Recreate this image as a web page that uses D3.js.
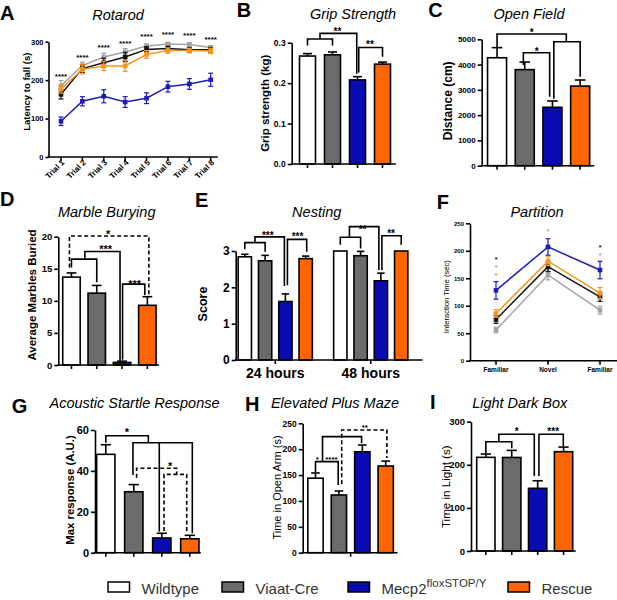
<!DOCTYPE html>
<html><head><meta charset="utf-8">
<script src="https://cdn.jsdelivr.net/npm/d3@7"></script>
<style>body{margin:0;background:#fff}svg{display:block}text{font-family:"Liberation Sans",Arial,Helvetica,sans-serif}</style>
</head><body><svg id="c" width="617" height="600"></svg>
<script>
// ---------------- DATA ----------------
const groups = ["Wildtype", "Viaat-Cre", "Mecp2", "Rescue"];
const mecp2Sup = "floxSTOP/Y";

// A Rotarod
const trials = ["Trial 1","Trial 2","Trial 3","Trial 4","Trial 5","Trial 6","Trial 7","Trial 8"];
const rotWT     = [163, 230, 245, 260, 280, 282, 279, 279];
const rotWTErr  = [12, 10, 12, 12, 7, 6, 6, 6];
const rotViaat  = [185, 238, 260, 273, 289, 294, 293, 285];
const rotViaatErr = [14, 9, 10, 9, 5, 4, 4, 5];
const rotMecp2  = [93, 145, 158, 143, 153, 183, 190, 201];
const rotMecp2Err = [11, 12, 17, 14, 14, 14, 14, 17];
const rotRescue = [177, 228, 237, 237, 267, 277, 277, 276];
const rotRescueErr = [11, 12, 12, 14, 10, 7, 6, 7];
const rotStarY  = [216, 265, 291, 300, 319, 324, 321, 311];
const rotTicks  = [0, 100, 200, 300];

// B Grip strength
const gripVals = [0.267, 0.270, 0.208, 0.247];
const gripErr  = [0.006, 0.007, 0.008, 0.005];
const gripTicks = [0, 0.1, 0.2, 0.3];

// C Open field
const ofVals = [4270, 3800, 2310, 3150];
const ofErr  = [400, 300, 250, 240];
const ofTicks = [0, 1000, 2000, 3000, 4000, 5000];

// D Marble burying
const mbVals = [13.7, 11.2, 0.4, 9.3];
const mbErr  = [0.65, 1.2, 0.2, 1.35];
const mbTicks = [0, 5, 10, 15, 20];

// E Nesting
const nestTimes = ["24 hours", "48 hours"];
const nest24 = [2.84, 2.73, 1.61, 2.79];
const nest24Err = [0.07, 0.15, 0.21, 0.07];
const nest48 = [3.0, 2.87, 2.18, 3.0];
const nest48Err = [0, 0.12, 0.21, 0];
const nestTicks = [0, 1, 2, 3];

// F Partition
const partLabels = ["Familiar", "Novel", "Familiar"];
const partWT = [75, 171, 116];      const partWTErr = [7, 9, 8];
const partViaat = [56, 156, 92];    const partViaatErr = [5, 9, 7];
const partMecp2 = [128, 207, 165];  const partMecp2Err = [16, 15, 16];
const partRescue = [86, 181, 123];  const partRescueErr = [7, 8, 10];
const partTicks = [0, 50, 100, 150, 200, 250];
// [point index, value, group index]
const partStars = [[0,187,0],[0,172,1],[0,157,3],[1,238,1],[2,208.5,0],[2,193.5,1]];

// G Acoustic startle
const asrVals = [48.1, 29.8, 7.2, 6.8];
const asrErr  = [4.7, 3.5, 2.3, 1.7];
const asrTicks = [0, 20, 40, 60];

// H Elevated plus maze
const epmVals = [144, 111.5, 195, 167.5];
const epmErr  = [10, 7.7, 13, 9.5];
const epmTicks = [0, 50, 100, 150, 200, 250];

// I Light dark box
const ldbVals = [217.3, 217, 145.4, 230.4];
const ldbErr  = [7.7, 16.5, 17.6, 10.7];
const ldbTicks = [0, 100, 200, 300];

// significance brackets: points as [bar index, value]
const gripBr = [
  {pts:[[0,0.293],[0,0.309],[1,0.309],[1,0.293]]},
  {pts:[[0.5,0.309],[0.5,0.323],[1.97,0.323],[1.97,0.223]]},
  {pts:[[2.05,0.226],[2.05,0.288],[3,0.288],[3,0.265]]}];
const gripSt = [[1.2,0.333,"**"],[2.5,0.301,"**"]];

const ofBr = [
  {pts:[[0,4644],[0,5210],[2.5,5210],[2.5,4905]]},
  {pts:[[2.05,2650],[2.05,4905],[3,4905],[3,3520]]},
  {pts:[[0.95,3983],[0.95,4470],[1.9,4470],[1.9,2730]]}];
const ofSt = [[1.25,5340,"*"],[1.43,4604,"*"]];

const mbBr = [
  {pts:[[-0.08,15.2],[-0.08,20.1],[3.06,20.1],[3.06,10.65]], dash:true},
  {pts:[[0,15.2],[0,16.5],[1,16.5],[1,12.9]]},
  {pts:[[0.53,16.5],[0.53,17.7],[1.92,17.7],[1.92,0.5]]},
  {pts:[[2.02,0.8],[2.02,12.6],[2.9,12.6],[2.9,10.9]]}];
const mbSt = [[1.45,20.8,"*"],[1.35,18.4,"***"],[2.5,13.0,"***"]];

// nesting brackets: [group, bar index, value]
const nestBr = [
  {pts:[[0,0,3.05],[0,0,3.23],[0,1,3.23],[0,1,2.98]]},
  {pts:[[0,0.5,3.23],[0,0.5,3.39],[0,1.95,3.39],[0,1.95,2.04]]},
  {pts:[[0,2.1,2.06],[0,2.1,3.32],[0,3.05,3.32],[0,3.05,2.98]]},
  {pts:[[1,0,3.17],[1,0,3.38],[1,1,3.38],[1,1,3.07]]},
  {pts:[[1,0.45,3.38],[1,0.45,3.67],[1,1.9,3.67],[1,1.9,2.48]]},
  {pts:[[1,2.05,2.48],[1,2.05,3.42],[1,3,3.42],[1,3,3.17]]}];
const nestSt = [[0,1.13,3.5,"***"],[0,2.6,3.46,"***"],[1,1.1,3.64,"**"],[1,2.5,3.53,"**"]];

const asrBr = [
  {pts:[[0,53.8],[0,57.2],[1.52,57.2],[1.52,53.8]]},
  {pts:[[0.97,38.0],[0.97,53.8],[3.09,53.8],[3.09,9.5]]},
  {pts:[[1.91,53.8],[1.91,10.3]]},
  {pts:[[1.1,36.7],[1.1,41.3],[2.53,41.3],[2.53,38.3]], dash:true},
  {pts:[[2.08,10.6],[2.08,38.3],[2.89,38.3],[2.89,9.5]], dash:true}];
const asrSt = [[0.75,60,"*"],[2.3,43.7,"*"]];

const epmBr = [
  {pts:[[0,155.4],[0,176],[0.97,176],[0.97,131]]},
  {pts:[[0.3,176],[0.3,224.3],[1.97,224.3],[1.97,211.5]]},
  {pts:[[1.12,132.8],[1.12,237.2],[3.05,237.2],[3.05,183.1]], dash:true}];
const epmSt = [[0.08,185,"*"],[0.68,185,"****"],[2.11,245,"**"]];

const ldbBr = [
  {pts:[[0,226.7],[0,253.6],[1,253.6],[1,238.3]]},
  {pts:[[0.5,253.6],[0.5,270.8],[1.87,270.8],[1.87,174]]},
  {pts:[[2.05,174],[2.05,270.8],[2.99,270.8],[2.99,243.6]]}];
const ldbSt = [[1.19,282,"*"],[2.6,282,"***"]];

// ---------------- STYLE ----------------
const barColors  = ["#ffffff", "#6b6b6b", "#0b0bb4", "#ff6600"];
const lineColors = ["#111111", "#a3a3a3", "#1c1cb8", "#f7941d"];
const LW = 1.6;

const svg = d3.select("#c");
svg.append("rect").attr("width",617).attr("height",600).attr("fill","#fff");

function labels(letter, lx, ly, title, tx, ty, ylab, yx, yy, ysize, yweight){
  svg.append("text").attr("x",lx).attr("y",ly).attr("font-size",20).attr("font-weight","bold").text(letter);
  svg.append("text").attr("x",tx).attr("y",ty).attr("text-anchor","middle").attr("font-size",14.5).attr("font-style","italic").text(title);
  svg.append("text").attr("transform",`translate(${yx},${yy}) rotate(-90)`).attr("text-anchor","middle")
     .attr("dominant-baseline","central").attr("font-size",ysize).attr("font-weight",yweight).text(ylab);
}

function yAxis(y, x0, ticks, fmt, fs, ts){
  const g = svg.append("g").attr("transform",`translate(${x0},0)`)
    .call(d3.axisLeft(y).tickValues(ticks).tickFormat(fmt).tickSize(ts||4).tickSizeOuter(0).tickPadding(2));
  g.select(".domain").attr("stroke","#000").attr("stroke-width",LW);
  g.selectAll(".tick line").attr("stroke","#000").attr("stroke-width",LW);
  g.selectAll(".tick text").attr("font-size",fs).attr("font-weight","bold").attr("fill","#000")
    .attr("font-family",'"Liberation Sans",Arial,sans-serif');
  return g;
}

function xLine(y0, xa, xb, tickXs){
  svg.append("line").attr("x1",xa).attr("x2",xb).attr("y1",y0).attr("y2",y0)
     .attr("stroke","#000").attr("stroke-width",LW).attr("stroke-linecap","square");
  svg.append("g").selectAll("line").data(tickXs).join("line")
     .attr("x1",d=>d).attr("x2",d=>d).attr("y1",y0).attr("y2",y0+4)
     .attr("stroke","#000").attr("stroke-width",LW);
}

function drawBr(px, y, br, st, fs){
  const line = d3.line().x(d=>px(d)).y(d=>y(d[d.length-1]));
  svg.append("g").selectAll("path").data(br).join("path").attr("d",d=>line(d.pts))
    .attr("fill","none").attr("stroke","#000").attr("stroke-width",LW).attr("stroke-linejoin","miter")
    .attr("stroke-dasharray",d=>d.dash?"4,2.6":null);
  svg.append("g").selectAll("text").data(st).join("text")
    .attr("x",d=>px(d)).attr("y",d=>y(d[d.length-2])+0.57*fs)
    .attr("text-anchor","middle").attr("font-size",fs).attr("font-weight","bold").text(d=>d[d.length-1]);
}

function bars(x, y, vals, errs, off){
  off = off||0;
  const bw = x.bandwidth();
  const g = svg.append("g");
  g.selectAll("rect").data(vals).join("rect")
    .attr("x",(d,i)=>off+x(i)).attr("width",bw).attr("y",d=>y(d)).attr("height",d=>y(0)-y(d))
    .attr("fill",(d,i)=>barColors[i]).attr("stroke","#000").attr("stroke-width",LW);
  const cw = bw*0.56;
  vals.forEach((v,i)=>{
    if(errs[i]<=0) return;
    const cx = off + x(i) + bw/2;
    g.append("line").attr("x1",cx).attr("x2",cx).attr("y1",y(v)).attr("y2",y(v+errs[i])).attr("stroke","#000").attr("stroke-width",LW);
    g.append("line").attr("x1",cx-cw/2).attr("x2",cx+cw/2).attr("y1",y(v+errs[i])).attr("y2",y(v+errs[i])).attr("stroke","#000").attr("stroke-width",LW);
  });
}

function barPanel(o){
  const x = d3.scaleBand().domain(d3.range(o.vals.length)).range(o.xr).paddingInner(o.pad).paddingOuter(o.pad/2);
  const y = d3.scaleLinear().domain(o.yd).range(o.yr);
  bars(x, y, o.vals, o.errs);
  yAxis(y, o.ax, o.ticks, o.fmt, o.tfs);
  const centers = o.vals.map((d,i)=>x(i)+x.bandwidth()/2);
  xLine(y(0), o.ax, o.axEnd, o.xticks ? o.xticks(centers) : centers);
  const px = d => x(0) + x.bandwidth()/2 + d[0]*x.step();
  drawBr(px, y, o.br, o.st, o.sfs);
}

function linePanel(x, y, series){
  const line = d3.line().x((d,i)=>x(i)).y(d=>y(d));
  series.forEach(([v,e,c])=>{
    const col = lineColors[c];
    const g = svg.append("g");
    g.append("path").attr("d",line(v)).attr("fill","none").attr("stroke",col).attr("stroke-width",1.5);
    v.forEach((d,i)=>{
      const cx = x(i);
      g.append("line").attr("x1",cx).attr("x2",cx).attr("y1",y(d-e[i])).attr("y2",y(d+e[i])).attr("stroke",col).attr("stroke-width",1.2);
      [d-e[i], d+e[i]].forEach(w=>g.append("line").attr("x1",cx-2.5).attr("x2",cx+2.5).attr("y1",y(w)).attr("y2",y(w)).attr("stroke",col).attr("stroke-width",1.2));
      g.append("rect").attr("x",cx-2.3).attr("y",y(d)-2.3).attr("width",4.6).attr("height",4.6).attr("fill",col);
    });
  });
}

// ---------------- PANEL A ----------------
(function(){
  const xp = d3.scalePoint().domain(trials).range([61, 210.7]);
  const x = i => xp(trials[i]);
  const y = d3.scaleLinear().domain([0,300]).range([157, 41.7]);
  yAxis(y, 48.5, rotTicks, d3.format("d"), 7.5, 3);
  xLine(157, 48.5, 217, trials.map(t=>xp(t)));
  svg.append("g").selectAll("text").data(trials).join("text")
    .attr("transform",t=>`translate(${xp(t)+2},${161}) rotate(-45)`).attr("text-anchor","end").attr("dy","0.35em")
    .attr("font-size",8).attr("font-weight","bold").text(t=>t);
  linePanel(x, y, [[rotViaat,rotViaatErr,1],[rotWT,rotWTErr,0],[rotRescue,rotRescueErr,3],[rotMecp2,rotMecp2Err,2]]);
  svg.append("g").selectAll("text").data(rotStarY).join("text")
    .attr("x",(d,i)=>x(i)).attr("y",d=>y(d)+0.57*8).attr("text-anchor","middle")
    .attr("font-size",8).attr("font-weight","bold").text("****");
  labels("A", 0, 19.5, "Rotarod", 118, 19.5, "Latency to fall (s)", 26.5, 91.7, 9.5, "bold");
})();

// ---------------- PANEL B ----------------
barPanel({vals:gripVals, errs:gripErr, xr:[295,395], pad:0.36, yd:[0,0.3], yr:[164,42.7], ax:291.7, axEnd:395,
  ticks:gripTicks, fmt:d3.format(".1f"), tfs:8.5, br:gripBr, st:gripSt, sfs:10});
labels("B", 236.7, 16.7, "Grip Strength", 353, 18.5, "Grip strength (kg)", 265, 103.3, 11.5, "bold");

// ---------------- PANEL C ----------------
barPanel({vals:ofVals, errs:ofErr, xr:[483.2,594], pad:0.314, yd:[0,5000], yr:[165.7,39.3], ax:481.7, axEnd:593.5,
  ticks:ofTicks, fmt:d3.format("d"), tfs:8, br:ofBr, st:ofSt, sfs:10});
labels("C", 428.3, 16.7, "Open Field", 529, 18.5, "Distance (cm)", 448.3, 100.8, 12, "bold");

// ---------------- PANEL D ----------------
barPanel({vals:mbVals, errs:mbErr, xr:[58.8,160], pad:0.31, yd:[0,20], yr:[365,236.7], ax:58.3, axEnd:158.3,
  ticks:mbTicks, fmt:d3.format("d"), tfs:9.5, br:mbBr, st:mbSt, sfs:11});
labels("D", 0, 205.7, "Marble Burying", 106.7, 216.7, "Average Marbles Buried", 31.7, 295, 11.5, "bold");

// ---------------- PANEL E ----------------
(function(){
  const x0 = d3.scaleBand().domain(nestTimes).range([227.5,418.5]).paddingInner(0.15).paddingOuter(0.075);
  const x1 = d3.scaleBand().domain(d3.range(4)).range([0, x0.bandwidth()]).paddingInner(0.345).paddingOuter(0.1725);
  const y = d3.scaleLinear().domain([0,3]).range([360,251]);
  bars(x1, y, nest24, nest24Err, x0(nestTimes[0]));
  bars(x1, y, nest48, nest48Err, x0(nestTimes[1]));
  yAxis(y, 235.7, nestTicks, d3.format("d"), 12);
  const centers = nestTimes.map(t=>x0(t)+x0.bandwidth()/2);
  xLine(360, 235.7, 421.7, centers);
  svg.append("g").selectAll("text").data(nestTimes).join("text")
    .attr("x",t=>x0(t)+x0.bandwidth()/2).attr("y",378.3).attr("text-anchor","middle")
    .attr("font-size",14).attr("font-weight","bold").text(t=>t);
  const px = d => x0(nestTimes[d[0]]) + x1(0) + x1.bandwidth()/2 + d[1]*x1.step();
  drawBr(px, y, nestBr, nestSt, 10);
  labels("E", 195, 206.7, "Nesting", 316.7, 216.7, "Score", 203.3, 304, 12.5, "bold");
})();

// ---------------- PANEL F ----------------
(function(){
  const x = d3.scalePoint().domain(d3.range(3)).range([496, 600]);
  const y = d3.scaleLinear().domain([0,250]).range([360.7, 223.3]);
  yAxis(y, 470, partTicks, d3.format("d"), 6);
  xLine(360.7, 470, 616.5, d3.range(3).map(i=>x(i)));
  svg.append("g").selectAll("text").data(partLabels).join("text")
    .attr("x",(d,i)=>x(i)).attr("y",371.5).attr("text-anchor","middle")
    .attr("font-size",6.5).attr("font-weight","bold").text(d=>d);
  linePanel(x, y, [[partViaat,partViaatErr,1],[partWT,partWTErr,0],[partRescue,partRescueErr,3],[partMecp2,partMecp2Err,2]]);
  const sfs = 7;
  svg.append("g").selectAll("text").data(partStars).join("text")
    .attr("x",d=>x(d[0])).attr("y",d=>y(d[1])+0.57*sfs).attr("text-anchor","middle")
    .attr("font-size",sfs).attr("font-weight","bold").attr("fill",d=>lineColors[d[2]]).text("*");
  labels("F", 436.7, 209.3, "Partition", 537, 217.3, "Interaction Time (sec)", 446, 296.7, 7.6, "normal");
})();

// ---------------- PANEL G ----------------
barPanel({vals:asrVals, errs:asrErr, xr:[91.8,203.8], pad:0.346, yd:[0,60], yr:[552.7,430], ax:95, axEnd:200,
  ticks:asrTicks, fmt:d3.format("d"), tfs:11, br:asrBr, st:asrSt, sfs:11});
labels("G", 11.7, 413.3, "Acoustic Startle Response", 134.5, 407.7, "Max response (A.U.)", 70, 490, 11.4, "bold");

// ---------------- PANEL H ----------------
barPanel({vals:epmVals, errs:epmErr, xr:[303.8,397.4], pad:0.346, yd:[0,250], yr:[552.7,423.3], ax:302.7, axEnd:396.7,
  ticks:epmTicks, fmt:d3.format("d"), tfs:8.5, br:epmBr, st:epmSt, sfs:8,
  xticks: c => [(c[0]+c[3])/2]});
labels("H", 245, 411, "Elevated Plus Maze", 335, 408.3, "Time in Open Arm (s)", 276.7, 487.5, 11, "normal");

// ---------------- PANEL I ----------------
barPanel({vals:ldbVals, errs:ldbErr, xr:[472.9,576.5], pad:0.293, yd:[0,300], yr:[551,421.7], ax:471, axEnd:575,
  ticks:ldbTicks, fmt:d3.format("d"), tfs:9.5, br:ldbBr, st:ldbSt, sfs:10});
labels("I", 430, 409, "Light Dark Box", 519.7, 408.3, "Time in Light (s)", 445, 486.7, 11.6, "normal");

// ---------------- LEGEND ----------------
(function(){
  const boxX = [108, 222, 348, 508];
  const g = svg.append("g");
  groups.forEach((name,i)=>{
    g.append("rect").attr("x",boxX[i]).attr("y",582).attr("width",21.5).attr("height",10)
     .attr("fill",barColors[i]).attr("stroke","#000").attr("stroke-width",1.5);
    const t = g.append("text").attr("x",boxX[i]+33.5).attr("y",593.5).attr("font-size",15).attr("fill","#333").text(name);
    if(name==="Mecp2") t.append("tspan").attr("dy",-7).attr("font-size",11.5).text(mecp2Sup);
  });
})();
</script></body></html>
